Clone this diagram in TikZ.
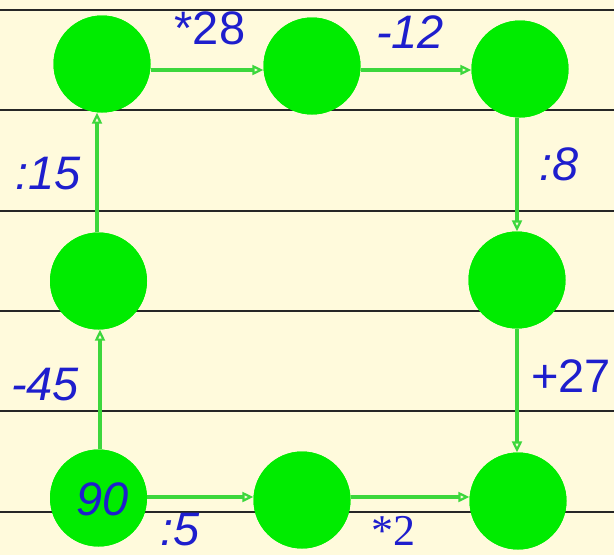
\documentclass[tikz,border=0pt]{standalone}
\usepackage{fontspec}
\setmainfont{Liberation Sans}
\newfontfamily\timesf{Liberation Serif}
\usetikzlibrary{arrows.meta}
\definecolor{bgyel}{RGB}{255,250,220}
\definecolor{dotgreen}{RGB}{0,236,0}
\definecolor{arrgreen}{RGB}{60,215,60}
\definecolor{lblue}{RGB}{30,30,205}
\tikzset{
  dot/.style={circle, fill=dotgreen, minimum size=97pt, inner sep=0pt},
  arr/.style={draw=arrgreen, line width=3.5pt, -{Triangle[open, length=11pt, width=10pt, line width=2.2pt]}},
  rule/.style={draw=black!85, line width=1.6pt},
  lbl/.style={text=lblue, font=\fontsize{47}{50}\selectfont\itshape, inner sep=0pt},
  lblup/.style={text=lblue, font=\fontsize{47}{50}\selectfont, inner sep=0pt},
  lbltm/.style={text=lblue, font=\fontsize{44}{50}\selectfont\timesf, inner sep=0pt}
}
\begin{document}
\begin{tikzpicture}[x=1pt,y=-1pt]
\fill[bgyel] (0,0) rectangle (614,555);
\useasboundingbox (0,0) rectangle (614,555);
\foreach \yy in {10,110,211,311,411,512} {
  \draw[rule] (0,\yy) -- (614,\yy);
}
% circles
\node[dot] (tl) at (102,64) {};
\node[dot] (tm) at (312,66) {};
\node[dot] (tr) at (520,69) {};
\node[dot] (ml) at (98.5,281) {};
\node[dot] (mr) at (517,280) {};
\node[dot] (bl) at (98.5,498) {};
\node[dot] (bm) at (302,500) {};
\node[dot] (br) at (518,501) {};
% arrows
\draw[arr] ([yshift=-6pt]tl.east) -- ([yshift=-4pt]tm.west);
\draw[arr] ([yshift=-4pt]tm.east) -- ([yshift=-1pt]tr.west);
\draw[arr] ([xshift=-3pt]tr.south) -- (mr.north);
\draw[arr] (mr.south) -- ([xshift=-1pt]br.north);
\draw[arr] ([yshift=1pt]bl.east) -- ([yshift=3pt]bm.west);
\draw[arr] ([yshift=3pt]bm.east) -- ([yshift=4pt]br.west);
\draw[arr] ([xshift=1.5pt]bl.north) -- ([xshift=1.5pt]ml.south);
\draw[arr] ([xshift=-1.5pt]ml.north) -- ([xshift=-5pt]tl.south);
% redraw circles on top of arrow starts
\node[dot] at (tl) {};
\node[dot] at (tm) {};
\node[dot] at (tr) {};
\node[dot] at (ml) {};
\node[dot] at (mr) {};
\node[dot] at (bl) {};
\node[dot] at (bm) {};
\node[dot] at (br) {};
% labels
\node[lblup] (l28) at (210,28) {*28};
\node[lbl] (l12) at (410,32) {-12};
\node[lbl] (l15) at (48,174) {:15};
\node[lbl] (l8) at (559,164) {:8};
\node[lbl] (l45) at (45,385) {-45};
\node[lblup] (l27) at (571,376) {+27};
\node[lbl] (l90) at (103,499) {90};
\node[lbl] (l5) at (180,530) {:5};
\node[lbltm] (l2) at (393,531) {*2};
\end{tikzpicture}
\end{document}
